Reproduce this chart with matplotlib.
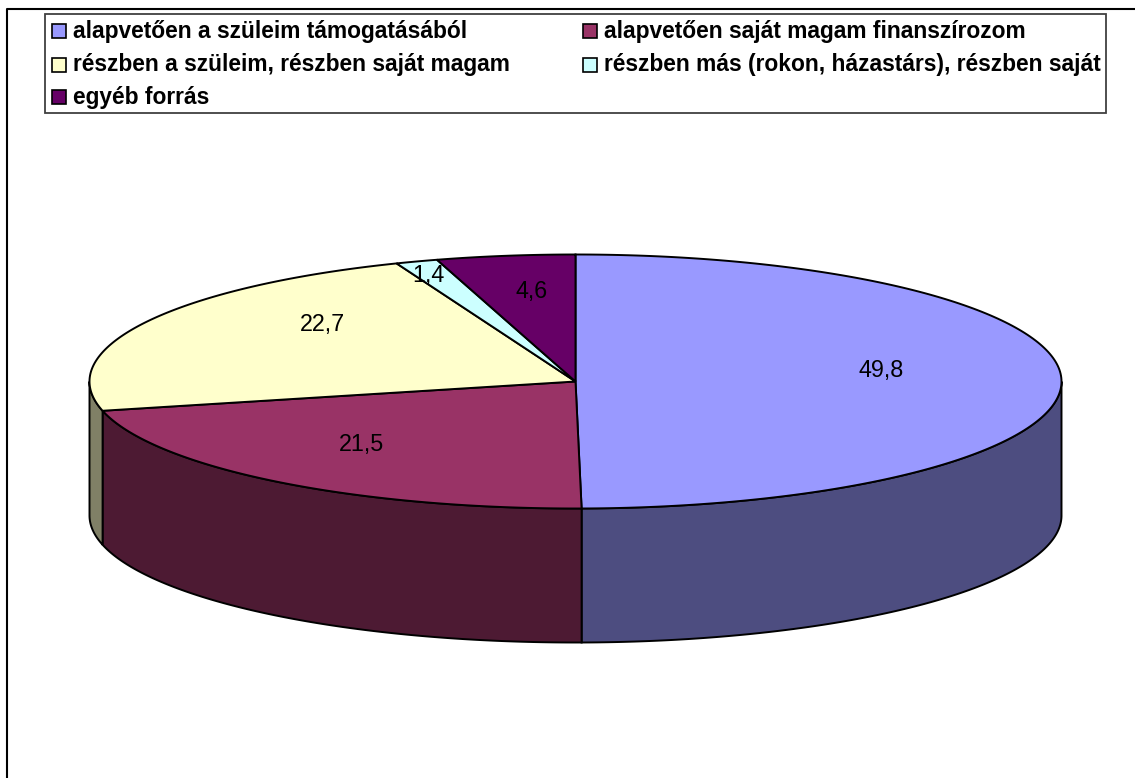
import numpy as np
import matplotlib
matplotlib.use('Agg')
import matplotlib.pyplot as plt
from matplotlib.patches import Polygon, Rectangle

labels = ['alapvetően a szüleim támogatásából', 'alapvetően saját magam finanszírozom',
          'részben a szüleim, részben saját magam', 'részben más (rokon, házastárs), részben saját',
          'egyéb forrás']
values = [49.8, 21.5, 22.7, 1.4, 4.6]
value_labels = ['49,8', '21,5', '22,7', '1,4', '4,6']
colors = ['#9999FF', '#993366', '#FFFFCC', '#CCFFFF', '#660066']
side_colors = ['#4D4D80', '#4D1A33', '#808066', '#668080', '#330033']

# pie geometry in pixels
cx, cy = 575.5, 381.5
rx, ry = 486, 127
depth = 134

# legend layout in pixels
legend_x = [52, 583]
legend_y = [31, 64.5, 97]

# label anchors in pixels (centre x, baseline y)
label_pos = [(881, 377), (361, 451), (322, 331), (428, 282), (532, 298)]

plt.rcParams['font.family'] = ['Liberation Sans', 'DejaVu Sans']

fig = plt.figure(figsize=(11.35, 7.78), dpi=100)
ax = fig.add_axes([0, 0, 1, 1])
ax.set_xlim(0, 1135)
ax.set_ylim(778, 0)
ax.axis('off')

# chart frame runs off the picture on the right and bottom
ax.plot([1135, 7, 7], [8.5, 8.5, 778], color='black', lw=1.5, zorder=1)


def rim(a0, a1):
    t = np.radians(np.linspace(a0, a1, 200))
    return cx + rx * np.sin(t), cy - ry * np.cos(t)


edges = np.cumsum([0] + values) / sum(values) * 360

# sides: only the part of the rim facing the viewer (90 to 270 deg clockwise from top)
for i in range(len(values)):
    a0, a1 = max(edges[i], 90), min(edges[i + 1], 270)
    if a0 < a1:
        x, y = rim(a0, a1)
        pts = np.r_[np.c_[x, y], np.c_[x[::-1], y[::-1] + depth]]
        ax.add_patch(Polygon(pts, closed=True, fc=side_colors[i], ec='black', lw=1.4, zorder=2))

# top face
for i in range(len(values)):
    x, y = rim(edges[i], edges[i + 1])
    pts = np.r_[[[cx, cy]], np.c_[x, y]]
    ax.add_patch(Polygon(pts, closed=True, fc=colors[i], ec='black', lw=1.4, zorder=3))

for (px, py), s in zip(label_pos, value_labels):
    ax.text(px, py, s, fontsize=16.8, ha='center', va='baseline', color='black', zorder=4)

# legend
ax.add_patch(Rectangle((45, 13.5), 1060.5, 99, fc='white', ec='#404040', lw=1.3, zorder=2))
rows = [(0, 0), (1, 0), (0, 1), (1, 1), (0, 2)]
for (c, r), lab, col in zip(rows, labels, colors):
    ax.add_patch(Rectangle((legend_x[c], legend_y[r] - 7), 13.5, 14, fc=col, ec='black', lw=1.2, zorder=3))
    ax.text(legend_x[c] + 21, legend_y[r] + 6.5, lab, fontsize=16.4, fontweight='bold', ha='left',
            va='baseline', color='black', zorder=3)

fig.savefig('out.png', dpi=100)
